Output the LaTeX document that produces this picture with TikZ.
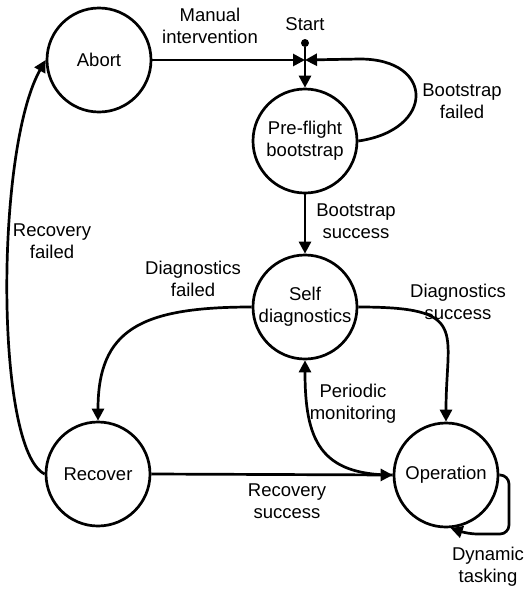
\documentclass[tikz,border=0pt]{standalone}
\usepackage{fontspec}
\setmainfont{Liberation Sans}
\usetikzlibrary{arrows.meta}
\begin{document}
\begin{tikzpicture}[x=1pt,y=-1pt,
  every node/.style={font=\fontsize{18.5}{22}\selectfont, align=center},
  state/.style={draw, circle, line width=2.7pt, minimum size=104pt, inner sep=0pt},
  lbl/.style={inner sep=0pt},
  edge/.style={line width=2.7pt, -{Triangle[length=12pt,width=12pt]}}]
\useasboundingbox (0,0) rectangle (527,590);
\node[state] (abort) at (99,60) {Abort};
\node[state] (pf) at (305,141) {Pre-flight\\bootstrap};
\node[state] (sd) at (305,307) {Self\\diagnostics};
\node[state] (rec) at (98,474) {Recover};
\node[state] (op) at (446,475) {Operation};
\node[circle, fill, inner sep=0pt, minimum size=8pt] (start) at (305,43) {};
\coordinate (j) at (305,60);
\coordinate (bf1) at (360,59);
\coordinate (dt1) at (509,475);
\coordinate (dt2) at (509,534);
\coordinate (dt3) at (468,534);
% labels
\node[lbl] (lstart) at (305,24) {Start};
\node[lbl] (lmi) at (210,26) {Manual\\intervention};
\node[lbl] (lbf) at (462,101) {Bootstrap\\failed};
\node[lbl] (lbs) at (356,221) {Bootstrap\\success};
\node[lbl] (ldf) at (193,279) {Diagnostics\\failed};
\node[lbl] (lds) at (458,302) {Diagnostics\\success};
\node[lbl] (lpm) at (353,404) {Periodic\\monitoring};
\node[lbl] (lrs) at (287,501) {Recovery\\success};
\node[lbl] (lrf) at (52,241) {Recovery\\failed};
\node[lbl] (ldt) at (488,567) {Dynamic\\tasking};
% connectors
\draw[edge] (start) -- (pf.north);
\draw[edge] (abort.east) -- (j);
\draw[edge] (pf.east) .. controls (435,130) and (435,59) .. (bf1) -- (j);
\draw[edge] (pf.south) -- (sd.north);
\draw[edge] (sd.west) .. controls (140,307) and (98,330) .. (rec.north);
\draw[edge] (sd.east) .. controls (470,307) and (446,330) .. (op.north);
\draw[edge] (op.west) .. controls (320,475) and (305,440) .. (sd.south);
\draw[edge] (rec.east) -- (op.west);
\draw[edge] (rec.west) .. controls (-5,450) and (-5,150) .. (abort.west);
\draw[edge, rounded corners=9pt] (op.east) -- (dt1) -- (dt2) -- (dt3) -- (op.-85);
\end{tikzpicture}
\end{document}
